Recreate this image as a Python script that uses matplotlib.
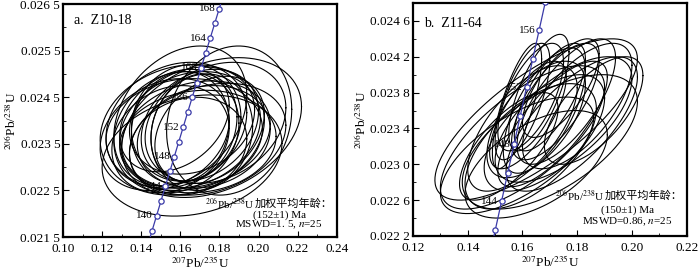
import numpy as np
import matplotlib
matplotlib.use("Agg")
import matplotlib.pyplot as plt
from matplotlib.ticker import MultipleLocator, FuncFormatter

plt.rcParams['font.family'] = ['Liberation Serif', 'Noto Sans CJK SC']
plt.rcParams['mathtext.fontset'] = 'stix'

# concordia reference points (age in Ma, 207Pb/235U, 206Pb/238U)
ages_a = [136, 138, 140, 142, 144, 146, 148, 150, 152, 154, 156, 158, 160, 162, 164, 166, 168, 170]
conc_x_a = [0.143324, 0.145578, 0.147836, 0.150100, 0.152367, 0.154639, 0.156916, 0.159197, 0.161483,
            0.163773, 0.166067, 0.168366, 0.170670, 0.172978, 0.175291, 0.177608, 0.179930, 0.182256]
conc_y_a = [0.021321, 0.021638, 0.021955, 0.022272, 0.022589, 0.022907, 0.023224, 0.023542, 0.023859,
            0.024177, 0.024495, 0.024813, 0.025131, 0.025449, 0.025767, 0.026085, 0.026404, 0.026722]
labels_a = [140, 144, 148, 152, 156, 160, 164, 168]

ages_b = [140, 142, 144, 146, 148, 150, 152, 154, 156, 158, 160]
conc_x_b = [0.147836, 0.150100, 0.152367, 0.154639, 0.156916, 0.159197, 0.161483, 0.163773, 0.166067,
            0.168366, 0.170670]
conc_y_b = [0.021955, 0.022272, 0.022589, 0.022907, 0.023224, 0.023542, 0.023859, 0.024177, 0.024495,
            0.024813, 0.025131]
labels_b = [144, 148, 152, 156]

# error ellipses: centre x, half-width x, centre y, half-height y, correlation
ell_a_x = [0.166, 0.176, 0.185, 0.160, 0.162, 0.165, 0.158, 0.170, 0.163, 0.168, 0.155, 0.172, 0.160,
           0.175, 0.152, 0.166, 0.169, 0.158, 0.164, 0.178, 0.157, 0.171, 0.161, 0.167, 0.174]
ell_a_hx = [0.046, 0.046, 0.032, 0.034, 0.040, 0.036, 0.032, 0.030, 0.028, 0.038, 0.030, 0.034, 0.025,
            0.028, 0.033, 0.032, 0.040, 0.036, 0.030, 0.036, 0.028, 0.026, 0.042, 0.022, 0.040]
ell_a_y = [0.02325, 0.02385, 0.02400, 0.02410, 0.02370, 0.02380, 0.02375, 0.02390, 0.02395, 0.02370,
           0.02360, 0.02365, 0.02385, 0.02380, 0.02370, 0.02400, 0.02355, 0.02390, 0.02345, 0.02395,
           0.02400, 0.02375, 0.02380, 0.02385, 0.02360]
ell_a_hy = [0.00130, 0.00150, 0.00160, 0.00150, 0.00120, 0.00125, 0.00130, 0.00120, 0.00125, 0.00115,
            0.00115, 0.00110, 0.00120, 0.00115, 0.00120, 0.00115, 0.00110, 0.00135, 0.00105, 0.00130,
            0.00110, 0.00125, 0.00140, 0.00115, 0.00120]
ell_a_rho = [0.20, 0.30, 0.15, 0.30, 0.10, 0.20, 0.15, 0.25, 0.10, 0.20, 0.20, 0.15, 0.10,
             0.30, 0.25, 0.20, 0.10, 0.20, 0.15, 0.25, 0.30, 0.10, 0.15, 0.20, 0.25]

ell_b_x = [0.165, 0.160, 0.158, 0.165, 0.170, 0.175, 0.160, 0.163, 0.166, 0.170, 0.158, 0.172, 0.168,
           0.162, 0.176, 0.180, 0.165, 0.160, 0.171, 0.155, 0.178, 0.168, 0.186, 0.163, 0.174]
ell_b_hx = [0.037, 0.030, 0.028, 0.026, 0.032, 0.025, 0.010, 0.012, 0.011, 0.013, 0.009, 0.016, 0.015,
            0.014, 0.018, 0.020, 0.018, 0.020, 0.020, 0.018, 0.024, 0.022, 0.018, 0.024, 0.014]
ell_b_y = [0.02350, 0.02330, 0.02310, 0.02300, 0.02325, 0.02350, 0.02370, 0.02375, 0.02380, 0.02375,
           0.02365, 0.02370, 0.02360, 0.02355, 0.02370, 0.02365, 0.02350, 0.02340, 0.02345, 0.02320,
           0.02345, 0.02335, 0.02360, 0.02320, 0.02385]
ell_b_hy = [0.00090, 0.00080, 0.00065, 0.00060, 0.00075, 0.00070, 0.00065, 0.00060, 0.00065, 0.00060,
            0.00070, 0.00065, 0.00070, 0.00060, 0.00070, 0.00070, 0.00065, 0.00070, 0.00070, 0.00060,
            0.00075, 0.00065, 0.00060, 0.00070, 0.00055]
ell_b_rho = [0.75, 0.70, 0.65, 0.55, 0.60, 0.65, 0.70, 0.65, 0.70, 0.70, 0.75, 0.70, 0.65,
             0.70, 0.70, 0.65, 0.60, 0.65, 0.75, 0.70, 0.70, 0.60, 0.65, 0.60, 0.70]

CONC = '#3a3aa8'


def spaced(v, pos):
    s = '%.4f' % v
    return s[:5] + ' ' + s[5:]


def draw_ellipses(ax, xs, hxs, ys, hys, rhos):
    t = np.linspace(0, 2 * np.pi, 200)
    for cx, hx, cy, hy, r in zip(xs, hxs, ys, hys, rhos):
        ex = cx + hx * np.cos(t)
        ey = cy + hy * (r * np.cos(t) + np.sqrt(1 - r * r) * np.sin(t))
        ax.plot(ex, ey, color='black', lw=0.8)


def draw_concordia(ax, ages, cx, cy, labels):
    ax.plot(cx, cy, color=CONC, lw=0.9, marker='o', ms=3.8, mfc='white', mec=CONC, mew=0.9, zorder=3)
    for a, x, y in zip(ages, cx, cy):
        if a in labels:
            ax.annotate(str(a), (x, y), xytext=(-2.5, 0), textcoords='offset points',
                        ha='right', va='center', fontsize=8, zorder=4)


def style_axes(ax):
    ax.tick_params(direction='in', which='both', top=False, right=False, labelsize=9.5)
    ax.tick_params(axis='y', pad=2)
    ax.tick_params(axis='x', pad=4.5)
    ax.tick_params(which='major', length=4)
    ax.tick_params(which='minor', length=2.5)
    for s in ax.spines.values():
        s.set_linewidth(1.6)
    ax.yaxis.set_major_formatter(FuncFormatter(spaced))
    ax.xaxis.set_major_formatter(FuncFormatter(lambda v, p: '%.2f' % v))
    ax.set_xlabel(r'$^{207}$Pb/$^{235}$U', fontsize=9.5, labelpad=0)
    ax.set_ylabel(r'$^{206}$Pb/$^{238}$U', fontsize=9.5, labelpad=1)


def age_note(ax, xc, xr, ys, age_txt, mswd_txt):
    # first line: isotope ratio in mathtext, Chinese words in a CJK font
    cn = ax.text(xr, ys[0], '加权平均年龄：', transform=ax.transAxes, fontsize=8,
                 family='Noto Sans CJK SC', ha='right', va='center')
    ax.annotate(r'$^{206}$Pb/$^{238}$U', xy=(0, 0.5), xycoords=cn, fontsize=8,
                ha='right', va='center')
    ax.text(xc, ys[1], age_txt, transform=ax.transAxes, fontsize=8, ha='center', va='center')
    ax.text(xc, ys[2], mswd_txt, transform=ax.transAxes, fontsize=8, ha='center', va='center')


fig = plt.figure(figsize=(7, 2.7), dpi=100)

ax1 = fig.add_axes([0.09, 0.122, 0.391, 0.863])
draw_ellipses(ax1, ell_a_x, ell_a_hx, ell_a_y, ell_a_hy, ell_a_rho)
draw_concordia(ax1, ages_a, conc_x_a, conc_y_a, labels_a)
ax1.set_xlim(0.10, 0.24)
ax1.set_ylim(0.0215, 0.0265)
ax1.xaxis.set_major_locator(MultipleLocator(0.02))
ax1.xaxis.set_minor_locator(MultipleLocator(0.01))
ax1.yaxis.set_major_locator(MultipleLocator(0.001, offset=0.0005))
ax1.yaxis.set_minor_locator(MultipleLocator(0.0005))
style_axes(ax1)
ax1.text(0.04, 0.93, 'a.  Z10-18', transform=ax1.transAxes, fontsize=10, va='center')
age_note(ax1, 0.79, 0.985, [0.142, 0.095, 0.052], '(152±1) Ma', 'MSWD=1. 5, $n$=25')

ax2 = fig.add_axes([0.59, 0.126, 0.391, 0.863])
draw_ellipses(ax2, ell_b_x, ell_b_hx, ell_b_y, ell_b_hy, ell_b_rho)
draw_concordia(ax2, ages_b, conc_x_b, conc_y_b, labels_b)
ax2.set_xlim(0.12, 0.22)
ax2.set_ylim(0.0222, 0.0248)
ax2.xaxis.set_major_locator(MultipleLocator(0.02))
ax2.xaxis.set_minor_locator(MultipleLocator(0.01))
ax2.yaxis.set_major_locator(MultipleLocator(0.0004, offset=0.0002))
ax2.yaxis.set_minor_locator(MultipleLocator(0.0002))
style_axes(ax2)
ax2.text(0.04, 0.91, 'b.  Z11-64', transform=ax2.transAxes, fontsize=10, va='center')
age_note(ax2, 0.783, 0.985, [0.172, 0.112, 0.060], '(150±1) Ma', 'MSWD=0.86, $n$=25')

fig.savefig('out.png', dpi=100)
